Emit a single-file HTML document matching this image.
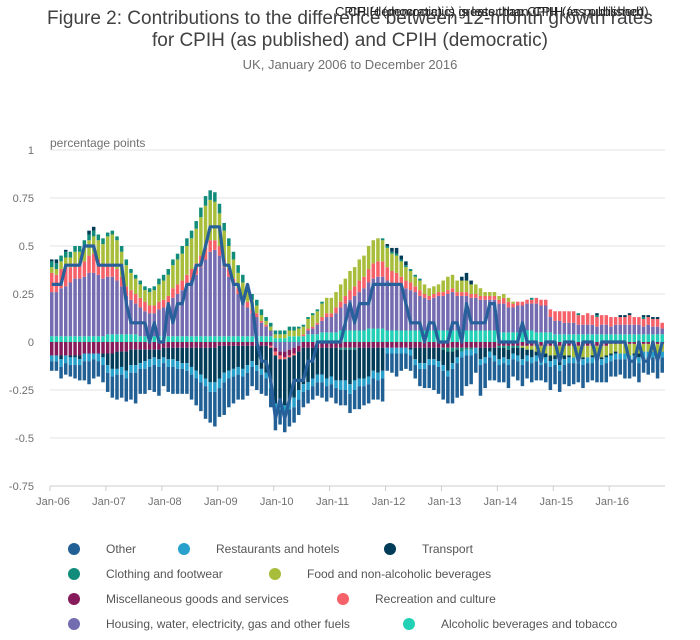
<!DOCTYPE html>
<html><head><meta charset="utf-8">
<style>
body{margin:0;background:#fff;font-family:"Liberation Sans",sans-serif;}
svg text{font-family:"Liberation Sans",sans-serif;}
</style></head>
<body>
<svg id="chart" width="700" height="635" viewBox="0 0 700 635">
<text x="335" y="16" font-size="13" fill="#222">CPIH (democratic) is greater than CPIH (as published)</text>
<text x="348" y="16" font-size="13" fill="#222">CPIH (democratic) is less than CPIH (as published)</text>
<text x="350" y="24" font-size="19" fill="#414042" text-anchor="middle">Figure 2: Contributions to the difference between 12-month growth rates</text>
<text x="350" y="46" font-size="19" fill="#414042" text-anchor="middle">for CPIH (as published) and CPIH (democratic)</text>
<text x="350" y="69" font-size="13" fill="#707070" text-anchor="middle">UK, January 2006 to December 2016</text>
<text x="50" y="147" font-size="12" fill="#707070">percentage points</text>
<g id="grid"></g><g id="bars"></g><g id="line"></g><g id="xaxis"></g><g id="legend"></g>
</svg>
<script>
const yTicks=[1,0.75,0.5,0.25,0,-0.25,-0.5,-0.75];
const yTickLabels=['1','0.75','0.5','0.25','0','-0.25','-0.5','-0.75'];
const xTickLabels=['Jan-06','Jan-07','Jan-08','Jan-09','Jan-10','Jan-11','Jan-12','Jan-13','Jan-14','Jan-15','Jan-16'];
const other=[-.05,-.05,-.06,-.06,-.06,-.07,-.08,-.10,-.12,-.10,-.08,-.09,
-.10,-.11,-.13,-.12,-.12,-.14,-.16,-.13,-.13,-.12,-.14,-.15,
-.12,-.13,-.14,-.13,-.13,-.12,-.13,-.14,-.15,-.17,-.16,-.18,
-.15,-.17,-.15,-.14,-.13,-.12,-.12,-.10,-.10,-.10,-.09,-.10,
-.10,-.08,-.10,-.09,-.08,-.08,-.08,-.07,-.07,-.07,-.08,-.08,
-.07,-.08,-.08,-.08,-.10,-.10,-.12,-.10,-.10,-.11,-.10,-.12,
-.09,-.10,-.12,-.09,-.08,-.08,-.07,-.09,-.10,-.12,-.13,-.14,
-.15,-.14,-.18,-.18,-.20,-.16,-.15,-.10,-.16,-.13,-.12,-.10,
-.09,-.10,-.12,-.09,-.10,-.11,-.09,-.10,-.10,-.08,-.10,-.12,
-.10,-.11,-.10,-.12,-.11,-.10,-.12,-.10,-.09,-.11,-.09,-.10,
-.08,-.09,-.08,-.10,-.09,-.08,-.10,-.08,-.09,-.08,-.10,-.08];
const restaurants=[-.03,-.03,-.04,-.04,-.04,-.04,-.03,-.04,-.04,-.03,-.04,-.04,
-.04,-.04,-.03,-.04,-.04,-.04,-.04,-.03,-.04,-.04,-.04,-.04,
-.03,-.04,-.04,-.04,-.03,-.04,-.04,-.04,-.04,-.04,-.05,-.05,
-.05,-.05,-.04,-.04,-.04,-.04,-.04,-.03,-.03,-.03,-.03,-.03,
-.04,-.04,-.04,-.05,-.05,-.05,-.04,-.04,-.04,-.04,-.04,-.04,
-.04,-.04,-.05,-.05,-.05,-.05,-.04,-.04,-.04,-.04,-.04,-.04,
-.03,-.03,-.03,-.03,-.03,-.03,-.03,-.03,-.03,-.03,-.03,-.03,
-.03,-.03,-.03,-.03,-.03,-.03,-.03,-.03,-.03,-.03,-.03,-.03,
-.03,-.03,-.03,-.03,-.03,-.03,-.03,-.03,-.03,-.03,-.03,-.03,
-.03,-.03,-.03,-.03,-.03,-.03,-.03,-.03,-.03,-.03,-.03,-.03,
-.03,-.03,-.03,-.03,-.03,-.03,-.03,-.03,-.03,-.03,-.03,-.03];
const transport=[.01,.02,-.02,.01,-.01,-.01,-.02,0,.02,.02,0,-.02,
-.06,-.08,-.09,-.08,-.10,-.08,-.08,-.07,-.06,-.05,-.04,-.05,
-.05,-.06,-.06,-.07,-.08,-.08,-.10,-.12,-.14,-.16,-.18,-.18,
-.17,-.14,-.13,-.12,-.11,-.12,-.10,-.08,-.10,-.12,-.14,-.18,
-.25,-.22,-.24,-.22,-.22,-.20,-.19,-.18,-.16,-.14,-.14,-.16,
-.15,-.17,-.16,-.16,-.18,-.16,-.16,-.16,-.15,-.12,-.13,-.12,
.01,.02,.03,.02,.02,-.01,-.06,-.08,-.08,-.06,-.06,-.07,
-.08,-.10,-.06,-.04,.02,.04,.02,0,-.06,-.05,-.02,-.04,
-.06,-.05,-.05,-.03,-.04,-.06,-.03,-.04,-.02,-.03,-.02,-.03,
-.02,-.04,-.02,-.01,0,-.01,-.01,0,-.01,.01,-.01,-.01,
-.01,-.01,.01,.01,.01,-.01,-.02,.01,.01,.01,.01,0];
const clothing=[.03,.03,.03,.03,.03,.03,.03,.03,.03,.03,.03,.03,
.02,.02,.02,.03,.03,.02,.02,.02,.02,.02,.02,.03,
.03,.03,.03,.03,.04,.04,.04,.04,.05,.05,.05,.05,
.05,.04,.04,.04,.04,.04,.03,.03,.03,.03,.02,.02,
.02,.02,.02,.02,.02,.01,.01,.01,.01,.01,.01,0,
0,0,-.01,-.01,-.01,-.01,0,0,0,0,0,.01,
.01,.01,.01,.01,.01,.01,.01,.01,0,0,0,0,
-.01,-.02,-.02,-.01,-.02,-.01,-.01,0,0,0,0,0,
-.01,-.01,-.02,-.01,-.01,0,0,.01,0,0,0,0,
0,0,0,0,0,.01,0,0,0,.01,0,0,
0,0,0,0,0,0,0,.01,0,0,0,0];
const food=[.03,.03,.04,.05,.05,.06,.07,.08,.08,.09,.10,.11,
.14,.16,.15,.13,.11,.09,.08,.07,.06,.07,.08,.09,
.10,.11,.12,.13,.14,.15,.16,.18,.20,.22,.21,.20,
.17,.15,.12,.10,.08,.07,.06,.05,.04,.03,.02,.02,
.02,.02,.02,.03,.03,.04,.04,.05,.06,.06,.07,.08,
.08,.08,.09,.09,.10,.10,.11,.11,.12,.12,.12,.11,
.10,.09,.09,.08,.07,.06,.05,.05,.05,.04,.04,.04,
.06,.07,.07,.06,.06,.06,.05,.05,.04,.02,.02,.02,
.02,.02,.02,.01,0,-.01,-.02,-.02,-.03,-.04,-.04,-.05,
-.05,-.06,-.05,-.05,-.06,-.05,-.06,-.06,-.05,-.05,-.06,-.05,
-.05,-.04,-.05,-.05,-.06,-.05,-.05,-.04,-.04,-.04,-.05,-.04];
const misc=[-.07,-.07,-.07,-.07,-.07,-.07,-.07,-.06,-.06,-.06,-.06,-.06,
-.06,-.06,-.05,-.05,-.05,-.04,-.04,-.04,-.04,-.04,-.04,-.04,
-.03,-.03,-.03,-.03,-.03,-.03,-.03,-.03,-.03,-.03,-.03,-.03,
-.02,-.02,-.02,-.02,-.02,-.02,-.02,-.02,-.02,-.02,-.02,-.02,
-.02,-.02,-.03,-.03,-.03,-.03,-.03,-.03,-.03,-.03,-.03,-.03,
-.03,-.03,-.03,-.03,-.03,-.03,-.03,-.03,-.03,-.03,-.03,-.03,
-.03,-.03,-.03,-.03,-.03,-.03,-.03,-.03,-.03,-.03,-.03,-.03,
-.03,-.03,-.03,-.03,-.03,-.03,-.03,-.03,-.03,-.03,-.03,-.03,
-.02,-.02,-.02,-.02,-.02,-.02,-.02,-.02,-.02,-.02,-.02,-.02,
-.02,-.02,-.02,-.02,-.02,-.02,-.02,-.02,-.02,-.02,-.02,-.02,
-.01,-.01,-.01,-.01,-.01,-.01,-.01,-.01,-.01,-.01,-.01,-.01];
const recreation=[.10,.09,.10,.10,.08,.08,.07,.08,.09,.10,.08,.07,
.07,.06,.06,.05,.05,.05,.05,.05,.05,.04,.04,.04,
.04,.04,.05,.05,.05,.05,.06,.06,.06,.06,.06,.05,
.05,.04,.04,.03,.03,.03,.03,.02,.02,.01,.01,-.01,
-.02,-.02,-.01,-.01,-.01,0,.01,.01,.01,.01,.02,.02,
.02,.03,.03,.04,.05,.05,.06,.06,.07,.08,.08,.08,
.07,.06,.06,.05,.04,.04,.03,.03,.02,.02,.02,.02,
.02,.02,.02,.02,.02,.02,.02,.02,.02,.02,.02,.02,
.02,.03,.03,.02,.02,.02,.02,.02,.03,.03,.03,.04,
.05,.05,.06,.06,.06,.05,.05,.06,.05,.05,.05,.05,
.05,.04,.04,.04,.05,.04,.04,.04,.04,.04,.04,.03];
const housing=[.23,.23,.25,.26,.28,.30,.30,.31,.33,.33,.32,.30,
.30,.30,.28,.25,.20,.18,.16,.15,.13,.12,.12,.14,
.15,.17,.20,.22,.24,.27,.29,.32,.36,.40,.44,.45,
.42,.36,.31,.27,.22,.18,.15,.12,.10,.07,.05,.03,
-.03,-.05,-.05,-.04,-.03,-.02,0,.02,.03,.05,.06,.08,
.08,.10,.12,.14,.16,.18,.20,.22,.24,.26,.27,.27,
.26,.25,.24,.23,.22,.21,.20,.18,.17,.16,.17,.18,
.18,.19,.20,.18,.18,.18,.17,.17,.16,.16,.16,.16,
.15,.15,.13,.13,.14,.14,.14,.14,.15,.14,.14,.08,
.07,.07,.06,.06,.06,.05,.05,.05,.05,.04,.05,.05,
.04,.05,.05,.05,.05,.05,.05,.04,.05,.04,.04,.03];
const alcohol=[.03,.03,.03,.03,.03,.03,.03,.03,.03,.03,.03,.03,
.04,.04,.04,.04,.04,.04,.04,.03,.03,.03,.03,.03,
.03,.03,.03,.03,.03,.03,.03,.03,.03,.03,.03,.03,
.03,.03,.03,.03,.03,.03,.03,.03,.03,.03,.03,.03,
.02,.02,.02,.03,.03,.03,.03,.04,.04,.04,.05,.05,
.05,.05,.06,.06,.06,.06,.06,.06,.07,.07,.07,.07,
.06,.06,.06,.06,.06,.06,.06,.06,.06,.06,.06,.06,
.06,.06,.06,.06,.06,.06,.06,.06,.06,.06,.06,.06,
.05,.05,.05,.05,.05,.05,.06,.06,.05,.05,.05,.05,
.04,.04,.04,.04,.04,.04,.04,.04,.04,.04,.04,.04,
.04,.04,.04,.04,.04,.04,.04,.04,.04,.04,.04,.04];
const difference=[.3,.3,.3,.4,.4,.4,.4,.5,.5,.5,.4,.4,
.4,.4,.4,.4,.2,.1,.1,.1,.1,0,.1,0,
0,.2,.1,.2,.2,.3,.3,.4,.4,.5,.6,.6,
.6,.4,.4,.3,.3,.2,.3,.2,0,-.1,-.1,-.2,
-.4,-.3,-.4,-.3,-.2,-.2,-.2,-.1,-.1,0,0,0,
0,0,0,.1,.2,.1,.2,.2,.2,.3,.3,.3,
.3,.3,.3,.3,.2,.1,.1,.1,0,.1,.1,0,
0,0,.1,.1,0,.2,.1,.1,.1,.1,.2,.2,
0,0,0,0,0,.1,0,0,0,-.1,0,0,
0,-.1,0,0,0,-.1,0,0,0,-.1,0,0,
0,0,0,0,-.1,-.1,0,-.1,-.1,0,-.1,0];

const NS='http://www.w3.org/2000/svg';
const x0=50,step=4.66,barW=3.5;
function xScale(i){return x0+i*step;}
function yScale(v){return 342-v*192;}
function mk(tag,attrs,parent){const e=document.createElementNS(NS,tag);for(const k in attrs)e.setAttribute(k,attrs[k]);parent.appendChild(e);return e;}

const grid=document.getElementById('grid');
yTicks.forEach((t,i)=>{
  const l=mk('line',{x1:50,x2:665,y1:yScale(t),y2:yScale(t),stroke:'#e3e3e3','stroke-width':1},grid);
  
  
  const tx=mk('text',{x:34,y:yScale(t)+4,'font-size':11,fill:'#707070','text-anchor':'end'},grid);
  tx.textContent=yTickLabels[i];
  
  
});

const series=[
 {name:'alcohol',data:alcohol,c:'#22d0b6'},
 {name:'housing',data:housing,c:'#746cb1'},
 {name:'misc',data:misc,c:'#871a5b'},
 {name:'recreation',data:recreation,c:'#f66068'},
 {name:'food',data:food,c:'#a8bd3a'},
 {name:'clothing',data:clothing,c:'#118c7b'},
 {name:'transport',data:transport,c:'#003c57'},
 {name:'restaurants',data:restaurants,c:'#27a0cc'},
 {name:'other',data:other,c:'#206095'}
];
const bars=document.getElementById('bars');
for(let i=0;i<difference.length;i++){
  let pos=0,neg=0;
  series.forEach(s=>{
    const v=s.data[i];if(!v)return;
    let a,b;
    if(v>0){a=pos;b=pos+v;pos=b;}else{a=neg;b=neg+v;neg=b;}
    const y1=yScale(Math.max(a,b)),y2=yScale(Math.min(a,b));
    const r=mk('rect',{x:xScale(i),y:y1,width:barW,height:y2-y1,fill:s.c},bars);
    
    
  });
}
const pts=difference.map((v,i)=>(xScale(i)+barW/2)+','+yScale(v)).join(' ');
const pl=mk('polyline',{points:pts,fill:'none',stroke:'#27609a','stroke-width':3.2,'stroke-linejoin':'round'},document.getElementById('line'));



const xa=document.getElementById('xaxis');
const ax=mk('line',{x1:50,x2:665,y1:486,y2:486,stroke:'#ccc'},xa);


xTickLabels.forEach((t,k)=>{
  const x=xScale(k*12);
  const tk=mk('line',{x1:x,x2:x,y1:486,y2:491,stroke:'#ccc'},xa);
  
  
  const tx=mk('text',{x:x+3,y:505,'font-size':11,fill:'#707070','text-anchor':'middle'},xa);
  tx.textContent=t;
  
  
});

const legendItems=[
 ['Other','#206095',74,549],['Restaurants and hotels','#27a0cc',184,549],['Transport','#003c57',390,549],
 ['Clothing and footwear','#118c7b',74,574],['Food and non-alcoholic beverages','#a8bd3a',275,574],
 ['Miscellaneous goods and services','#871a5b',74,599],['Recreation and culture','#f66068',343,599],
 ['Housing, water, electricity, gas and other fuels','#746cb1',74,624],['Alcoholic beverages and tobacco','#22d0b6',409,624]
];
const lg=document.getElementById('legend');
legendItems.forEach(it=>{
  const g=mk('g',{},lg);
  
  
  mk('circle',{cx:it[2],cy:it[3],r:6,fill:it[1]},g);
  const t=mk('text',{x:it[2]+32,y:it[3]+4,'font-size':12,fill:'#555'},g);
  t.textContent=it[0];
});
</script>
</body></html>
